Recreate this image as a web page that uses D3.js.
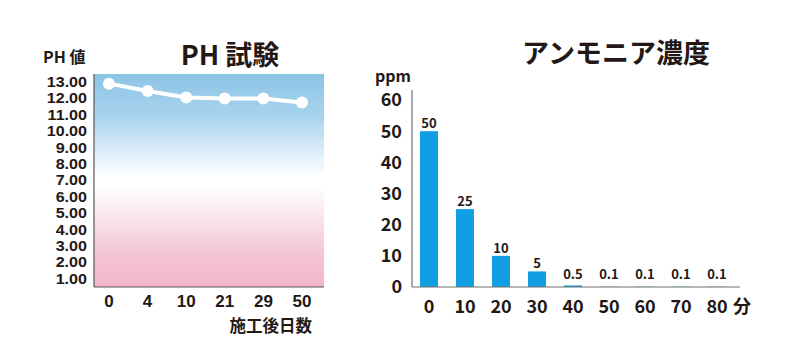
<!DOCTYPE html>
<html>
<head>
<meta charset="utf-8">
<script src="https://cdn.jsdelivr.net/npm/d3@7"></script>
<style>
  body { margin: 0; background: #fff; }
  svg text { font-family: "Noto Sans CJK JP", "Noto Sans", sans-serif; font-weight: bold; fill: #231815; }
</style>
</head>
<body>
<div id="chart"></div>
<script>
// PH test data
var phDays = ["0", "4", "10", "21", "29", "50"]
var phValues = [12.9, 12.45, 12.05, 12.0, 12.0, 11.75]
var phTicks = [1, 2, 3, 4, 5, 6, 7, 8, 9, 10, 11, 12, 13]

// ammonia data
var minutes = ["0", "10", "20", "30", "40", "50", "60", "70", "80"]
var ammonia = [50, 25, 10, 5, 0.5, 0.1, 0.1, 0.1, 0.1]
var ppmTicks = [0, 10, 20, 30, 40, 50, 60]

var svg = d3.select("#chart")
    .append("svg")
    .attr("width", 800)
    .attr("height", 363)

// ---------- graph 1: PH line ----------
var ph = { left: 94, right: 324, top: 74, bottom: 287 }

var y1 = d3.scaleLinear()
    .domain([1, 13])
    .range([279, 82])
var x1 = d3.scalePoint()
    .domain(phDays)
    .range([109, 302])

// gradient background
var grad = svg.append("defs").append("linearGradient")
    .attr("id", "phGrad")
    .attr("x1", 0).attr("y1", 0).attr("x2", 0).attr("y2", 1)
grad.append("stop").attr("offset", "0%").attr("stop-color", "#8cc4e6")
grad.append("stop").attr("offset", "20%").attr("stop-color", "#a9d3ee")
grad.append("stop").attr("offset", "48%").attr("stop-color", "#ffffff")
grad.append("stop").attr("offset", "53%").attr("stop-color", "#ffffff")
grad.append("stop").attr("offset", "85%").attr("stop-color", "#f4c4d2")
grad.append("stop").attr("offset", "100%").attr("stop-color", "#f2b6c7")

svg.append("rect")
    .attr("x", ph.left)
    .attr("y", ph.top)
    .attr("width", ph.right - ph.left)
    .attr("height", ph.bottom - ph.top)
    .style("fill", "url(#phGrad)")

// axis lines
svg.append("line")
    .attr("x1", ph.left).attr("x2", ph.left)
    .attr("y1", ph.top).attr("y2", ph.bottom)
    .style("stroke", "#595757").style("stroke-width", 1.2)
svg.append("line")
    .attr("x1", ph.left).attr("x2", ph.right)
    .attr("y1", ph.bottom).attr("y2", ph.bottom)
    .style("stroke", "#595757").style("stroke-width", 1.2)

// y tick labels (tight spacing, so a font with a short line box, stretched a bit)
svg.append("g")
    .selectAll("text")
    .data(phTicks)
    .enter().append("text")
        .attr("transform", function(d) { return `translate(87,${y1(d)}) scale(1.15,1)` })
        .attr("dy", "0.35em")
        .style("text-anchor", "end")
        .style("font-family", "'Liberation Sans', Arial, sans-serif")
        .style("font-size", "14px")
        .text(function(d) { return d.toFixed(2) })

// x tick labels
svg.append("g")
    .selectAll("text")
    .data(phDays)
    .enter().append("text")
        .attr("x", function(d) { return x1(d) })
        .attr("y", 301)
        .attr("dy", "0.36em")
        .style("text-anchor", "middle")
        .style("font-family", "'Liberation Sans', Arial, sans-serif")
        .style("font-size", "17px")
        .text(function(d) { return d })

// line
var line = d3.line()
    .x(function(d, i) { return x1(phDays[i]) })
    .y(function(d) { return y1(d) })
svg.append("path")
    .datum(phValues)
    .attr("d", line)
    .style("fill", "none")
    .style("stroke", "#fff")
    .style("stroke-width", 4)
svg.append("g")
    .selectAll("circle")
    .data(phValues)
    .enter().append("circle")
        .attr("cx", function(d, i) { return x1(phDays[i]) })
        .attr("cy", function(d) { return y1(d) })
        .attr("r", 6)
        .style("fill", "#fff")

// labels
svg.append("text")
    .attr("x", 43).attr("y", 57)
    .attr("dy", "0.36em")
    .style("font-size", "16px")
    .text("PH 値")
svg.append("text")
    .attr("x", 230).attr("y", 55)
    .attr("dy", "0.36em")
    .style("text-anchor", "middle")
    .style("font-size", "27px")
    .text("PH 試験")
svg.append("text")
    .attr("x", 312).attr("y", 326)
    .attr("dy", "0.36em")
    .style("text-anchor", "end")
    .style("font-size", "16.5px")
    .text("施工後日数")

// ---------- graph 2: ammonia bars ----------
var am = { left: 412, right: 740, top: 90, bottom: 287 }

var y2 = d3.scaleLinear()
    .domain([0, 60])
    .range([am.bottom, 100])
var x2 = d3.scaleBand()
    .domain(minutes)
    .range([411, 735])
    .paddingInner(0.5)
    .paddingOuter(0.25)

svg.append("g")
    .selectAll("rect")
    .data(ammonia)
    .enter().append("rect")
        .attr("x", function(d, i) { return x2(minutes[i]) })
        .attr("y", function(d) { return y2(d) })
        .attr("width", x2.bandwidth())
        .attr("height", function(d) { return am.bottom - y2(d) })
        .style("fill", "#129ee3")

// value labels
svg.append("g")
    .selectAll("text")
    .data(ammonia)
    .enter().append("text")
        .attr("x", function(d, i) { return x2(minutes[i]) + x2.bandwidth() / 2 })
        .attr("y", function(d) { return Math.min(y2(d), 282) - 3 })
        .style("text-anchor", "middle")
        .style("font-size", "13px")
        .text(function(d) { return d })

// axis lines
svg.append("line")
    .attr("x1", am.left).attr("x2", am.left)
    .attr("y1", am.top).attr("y2", am.bottom)
    .style("stroke", "#727171").style("stroke-width", 1.2)
svg.append("line")
    .attr("x1", am.left).attr("x2", am.right)
    .attr("y1", am.bottom).attr("y2", am.bottom)
    .style("stroke", "#727171").style("stroke-width", 1.2)

// y tick labels
svg.append("g")
    .selectAll("text")
    .data(ppmTicks)
    .enter().append("text")
        .attr("x", 402)
        .attr("y", function(d) { return y2(d) })
        .attr("dy", "0.36em")
        .style("text-anchor", "end")
        .style("font-size", "18px")
        .text(function(d) { return d })

// x tick labels
svg.append("g")
    .selectAll("text")
    .data(minutes)
    .enter().append("text")
        .attr("x", function(d) { return x2(d) + x2.bandwidth() / 2 })
        .attr("y", 307)
        .attr("dy", "0.36em")
        .style("text-anchor", "middle")
        .style("font-size", "18px")
        .text(function(d) { return d })

svg.append("text")
    .attr("x", 742).attr("y", 307)
    .attr("dy", "0.36em")
    .style("text-anchor", "middle")
    .style("font-size", "18px")
    .text("分")
svg.append("text")
    .attr("x", 375).attr("y", 76)
    .attr("dy", "0.36em")
    .style("font-size", "16px")
    .text("ppm")
svg.append("text")
    .attr("x", 616).attr("y", 53)
    .attr("dy", "0.36em")
    .style("text-anchor", "middle")
    .style("font-size", "27px")
    .text("アンモニア濃度")
</script>
</body>
</html>
